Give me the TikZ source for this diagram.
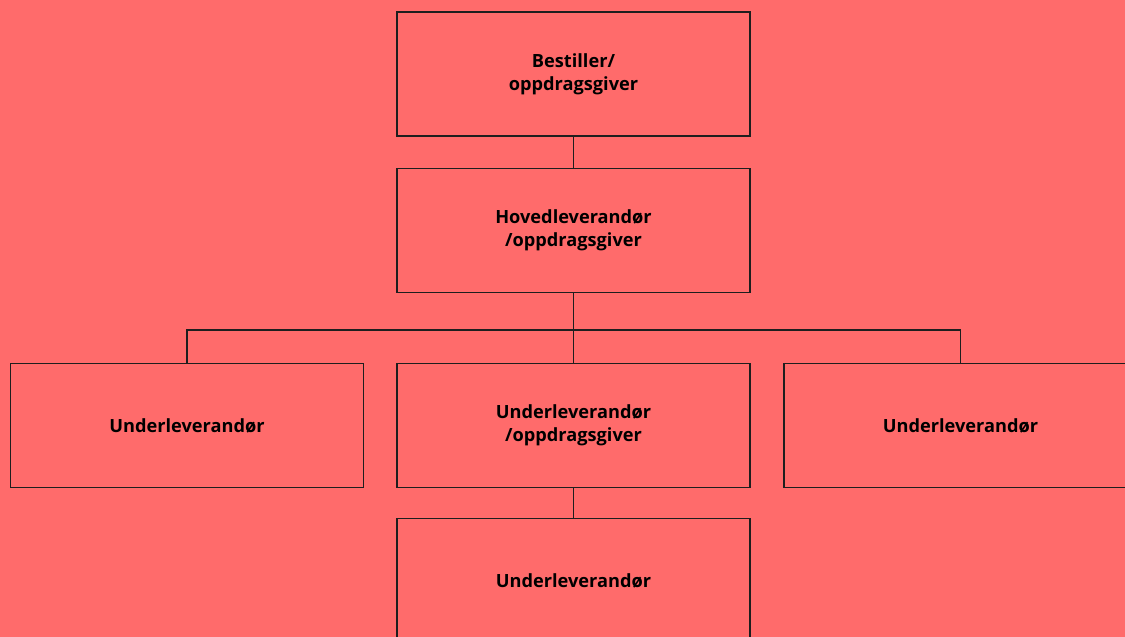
\documentclass[tikz,border=0pt]{standalone}
\usepackage{fontspec}
\setmainfont{Open Sans}
\usetikzlibrary{positioning}
\definecolor{bakgrunn}{HTML}{FF6B6B}
\definecolor{strek}{HTML}{1E1E1E}
\tikzset{boks/.style={draw=strek, line width=1.2pt, minimum width=353pt, minimum height=124pt,
  inner sep=0pt, align=center, text=black, font=\bfseries\fontsize{18.2}{23}\selectfont}}

\begin{document}
\begin{tikzpicture}[x=1pt,y=-1pt]
   \fill[bakgrunn] (0,0) rectangle (1125,637);
   \useasboundingbox (0,0) rectangle (1125,637);
   \clip (0,0) rectangle (1125,637);

   \node[boks] (bestiller) at (573.5,74) {Bestiller/\\oppdragsgiver};
   \node[boks] (hoved) at (573.5,230.5) {Hovedleverandør\\/oppdragsgiver};

   \node[boks] (underV) at (187,425.5) {Underleverandør};
   \node[boks] (underM) at (573.5,425.5) {Underleverandør\\/oppdragsgiver};
   \node[boks] (underH) at (960.5,425.5) {Underleverandør};

   \node[boks] (underB) at (573.5,580.5) {Underleverandør};

   \coordinate (buss) at (573.5,330);

\draw[strek, line width=1.2pt] (bestiller) -- (hoved);
\draw[strek, line width=1.2pt] (hoved) -- (underM);
\draw[strek, line width=1.2pt] (underV.north) |- (buss) -| (underH.north);
\draw[strek, line width=1.2pt] (underM) -- (underB);

  \end{tikzpicture}
\end{document}
